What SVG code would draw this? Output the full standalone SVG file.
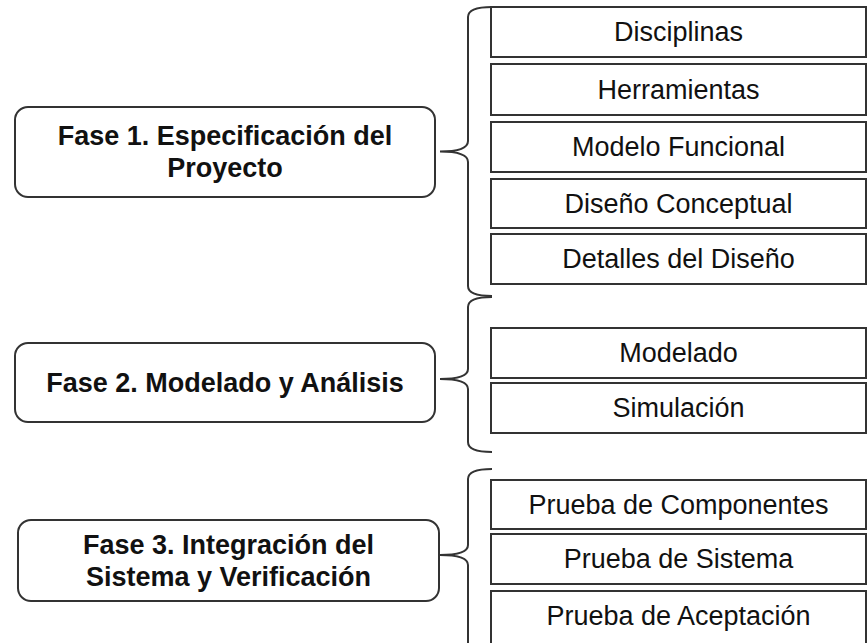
<svg xmlns="http://www.w3.org/2000/svg" width="867" height="643" viewBox="0 0 867 643">
<style>
.phase{fill:#fff;stroke:#333;stroke-width:2}
.item{fill:#fff;stroke:#333;stroke-width:2}
.brace{fill:none;stroke:#333;stroke-width:2}
.pt{font-family:"Liberation Sans",Arial,sans-serif;font-size:27px;font-weight:bold;fill:#111;text-anchor:middle}
.it{font-family:"Liberation Sans",Arial,sans-serif;font-size:27px;fill:#111;text-anchor:middle}
</style>
<rect width="867" height="643" fill="#fff"/>
<g id="connectors">
<path class="brace" d="M492,7 Q468,7 468,17 L468,141 Q468,151.5 440,151.5 Q468,151.5 468,162 L468,286 Q468,296 492,296"/>
<path class="brace" d="M492,297 Q468,297 468,307 L468,369 Q468,379 440,379 Q468,379 468,389 L468,442 Q468,452 492,452"/>
<path class="brace" d="M492,469 Q468,469 468,479 L468,545 Q468,555 440,555 Q468,555 468,565 L468,660"/>
</g>
<g id="fase1"><rect class="phase" x="15" y="107" width="420" height="90" rx="13"/><text class="pt" x="225" y="145">Fase 1. Especificación del</text><text class="pt" x="225" y="177">Proyecto</text></g>
<g id="fase2"><rect class="phase" x="15" y="343" width="420" height="79" rx="13"/><text class="pt" x="225" y="392">Fase 2. Modelado y Análisis</text></g>
<g id="fase3"><rect class="phase" x="18" y="520" width="421" height="81" rx="13"/><text class="pt" x="228.5" y="554">Fase 3. Integración del</text><text class="pt" x="228.5" y="586">Sistema y Verificación</text></g>
<g id="disciplinas"><rect class="item" x="491" y="7" width="375" height="50"/><text class="it" x="678.5" y="41">Disciplinas</text></g>
<g id="herramientas"><rect class="item" x="491" y="64" width="375" height="51"/><text class="it" x="678.5" y="98.5">Herramientas</text></g>
<g id="modelo-funcional"><rect class="item" x="491" y="122" width="375" height="50"/><text class="it" x="678.5" y="156">Modelo Funcional</text></g>
<g id="diseno-conceptual"><rect class="item" x="491" y="179" width="375" height="49"/><text class="it" x="678.5" y="212.5">Diseño Conceptual</text></g>
<g id="detalles-diseno"><rect class="item" x="491" y="234" width="375" height="50"/><text class="it" x="678.5" y="268">Detalles del Diseño</text></g>
<g id="modelado"><rect class="item" x="491" y="328" width="375" height="50"/><text class="it" x="678.5" y="362">Modelado</text></g>
<g id="simulacion"><rect class="item" x="491" y="383" width="375" height="50"/><text class="it" x="678.5" y="417">Simulación</text></g>
<g id="prueba-componentes"><rect class="item" x="491" y="480" width="375" height="49"/><text class="it" x="678.5" y="513.5">Prueba de Componentes</text></g>
<g id="prueba-sistema"><rect class="item" x="491" y="534" width="375" height="50"/><text class="it" x="678.5" y="568">Prueba de Sistema</text></g>
<g id="prueba-aceptacion"><rect class="item" x="491" y="591" width="375" height="60"/><text class="it" x="678.5" y="625">Prueba de Aceptación</text></g>
</svg>
